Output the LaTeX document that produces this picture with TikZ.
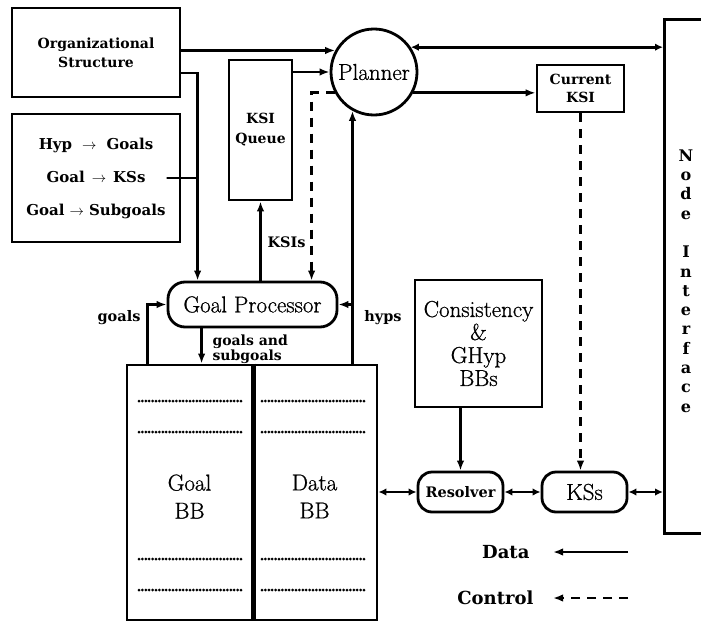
\documentclass[tikz,border=0pt]{standalone}
\usepackage{fontspec}
\setmainfont{Latin Modern Roman}
\newfontfamily\labfont{DejaVu Serif}
\newfontfamily\bigfont{Latin Modern Roman}[FakeBold=0.8]
\usetikzlibrary{arrows.meta}

\tikzset{
  box/.style={draw, line width=2.8pt, inner sep=0pt},
  rbox/.style={box, rounded corners=17pt},
  arr/.style={line width=2.8pt, -{Latex[length=10pt,width=7.5pt]}},
  darr/.style={line width=2.8pt, {Latex[length=8pt,width=7.5pt]}-{Latex[length=8pt,width=7.5pt]}},
  ctl/.style={arr, dash pattern=on 9pt off 7pt},
  plain/.style={line width=2.8pt},
  lab/.style={font=\labfont\bfseries\fontsize{14}{19}\selectfont},
  small/.style={font=\labfont\bfseries\fontsize{14.5}{15}\selectfont},
  big/.style={font=\bigfont\fontsize{23}{28}\selectfont},
  legend/.style={font=\labfont\bfseries\fontsize{18}{20}\selectfont},
  dots/.style={line width=3pt, line cap=round, dash pattern=on 0pt off 3.4pt},
}
\newcommand{\rulearrow}[1]{\hspace{#1}$\rightarrow$\hspace{#1}}

\begin{document}
\begin{tikzpicture}[x=1pt,y=-1pt]
\useasboundingbox (0,0) rectangle (701,621);

% left-hand knowledge boxes
\node[box, minimum width=168pt, minimum height=89pt, align=center, lab] (org) at (96,52.5)
  {Organizational\\Structure};
\node[box, minimum width=168pt, minimum height=128pt, align=center,
      font=\labfont\bfseries\fontsize{15}{33}\selectfont] (rules) at (96,178)
  {Hyp\rulearrow{10pt}Goals\\Goal\rulearrow{7pt}KSs\\Goal\rulearrow{5pt}Subgoals};

% control components
\node[box, minimum width=63pt, minimum height=140pt, align=center,
      font=\labfont\bfseries\fontsize{14}{20}\selectfont] (ksiq) at (260.5,130) {KSI\\Queue};
\node[draw, circle, line width=2.8pt, minimum size=86pt, inner sep=0pt, big] (planner) at (374,72) {Planner};
\node[box, minimum width=87pt, minimum height=47pt, align=center,
      font=\labfont\bfseries\fontsize{14}{18}\selectfont] (cur) at (580.5,88.5) {Current\\KSI};
\node[rbox, minimum width=169pt, minimum height=45pt, big] (gp) at (252.5,304.5) {Goal Processor};

% blackboards
\node[box, minimum width=125pt, minimum height=255pt] (goalbb) at (189.5,492.5) {};
\node[box, minimum width=125pt, minimum height=255pt] (databb) at (314.5,492.5) {};
\draw[line width=5pt] (goalbb.north east) -- (goalbb.south east);
\node[big, align=center] (goaltxt) at ([yshift=-4pt]goalbb.center) {Goal\\BB};
\node[big, align=center] (datatxt) at ([yshift=-4pt]databb.center) {Data\\BB};
\foreach \yy in {401,432,559,590} {
  \draw[dots] (139,\yy) -- (243,\yy);
  \draw[dots] (262,\yy) -- (367,\yy);
}

\node[box, minimum width=127pt, minimum height=127pt, align=center,
      font=\bigfont\fontsize{23}{23}\selectfont] (cons) at (478.5,343.5)
  {Consistency\\\&\\GHyp\\BBs};
\node[rbox, rounded corners=14pt, minimum width=85pt, minimum height=40pt, small] (resolver) at (460.5,492) {Resolver};
\node[rbox, rounded corners=14pt, minimum width=85pt, minimum height=40pt, big] (kss) at (584.5,492) {KSs};

% node interface, running off the right edge
\node[box, minimum width=60pt, minimum height=514pt, anchor=north west] (ni) at (663,18) {};
\node[align=center, font=\labfont\bfseries\fontsize{16}{19.3}\selectfont] (nitxt) at (686,281)
  {N\\o\\d\\e\\[19.3pt]I\\n\\t\\e\\r\\f\\a\\c\\e};

% data flow
\draw[arr] (org.east |- planner.151) -- (planner.151);
\draw[arr] ([yshift=-20.5pt]org.east) -| ([xshift=31pt]gp.north west);
\draw[plain] (rules.east) -- (rules.east -| gp.north west) -- +(31,0);
\draw[arr] (ksiq.east |- planner.west) -- (planner.west);
\draw[darr] (planner.34) -- (planner.34 -| ni.west);
\draw[arr] (planner.-28) -- (planner.-28 -| cur.west);
\draw[arr] (ksiq.south |- gp.north) -- (ksiq.south);
\draw[arr] (databb.north -| planner.241) -- (planner.241);
\draw[arr] (gp.east -| planner.241) -- (gp.east);
\draw[arr] ([xshift=22pt]goalbb.north west) |- (gp.west);
\draw[arr] ([xshift=35pt]gp.south west) -- ([xshift=35pt]gp.south west |- goalbb.north);
\draw[arr] (cons.south -| resolver.north) -- (resolver.north);
\draw[darr] (databb.east |- resolver.west) -- (resolver.west);
\draw[darr] (resolver.east) -- (kss.west);
\draw[darr] (kss.east) -- (kss.east -| ni.west);

% control flow
\draw[ctl] (planner.208) -| ([xshift=145pt]gp.north west);
\draw[ctl] (cur.south) -- (cur.south |- kss.north);

% connector labels
\node[small, anchor=west] (ksislbl) at (264,242) {KSIs};
\node[small] (goalslbl) at (119,318) {goals};
\node[small] (hypslbl) at (383,318) {hyps};
\node[align=left, anchor=west, font=\labfont\bfseries\fontsize{14}{15}\selectfont] (gslbl) at (209,349)
  {goals and\\subgoals};

% legend
\node[legend, anchor=east] (datalbl) at (533,552) {Data};
\node[legend, anchor=east] (ctllbl) at (537,598) {Control};
\draw[arr] ([xshift=95pt]datalbl.east) -- ([xshift=20pt]datalbl.east);
\draw[ctl] ([xshift=91pt]ctllbl.east) -- ([xshift=16pt]ctllbl.east);
\end{tikzpicture}
\end{document}
